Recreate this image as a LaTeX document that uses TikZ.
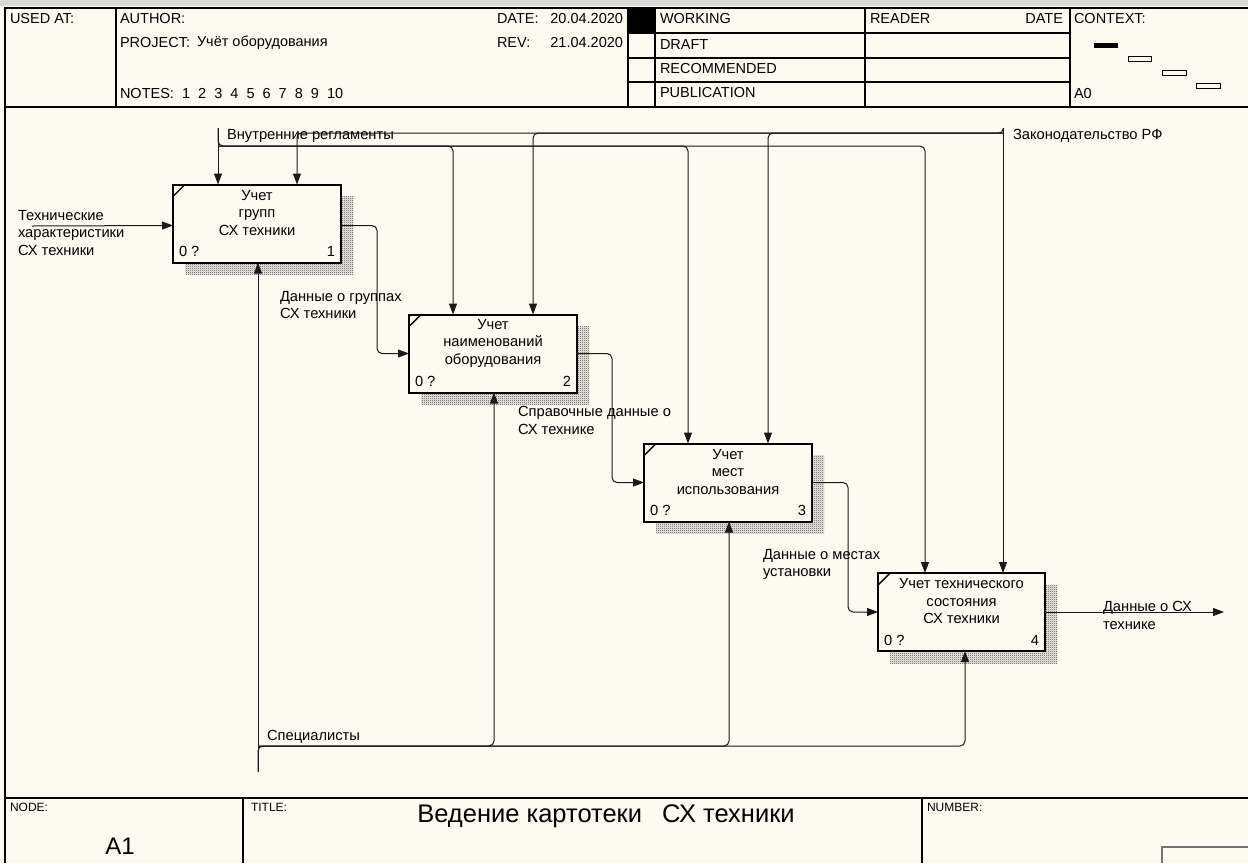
\documentclass[tikz,border=0pt]{standalone}
\usepackage{fontspec}
\setmainfont{Liberation Sans}
\usetikzlibrary{arrows.meta,patterns.meta,calc,backgrounds}
\definecolor{bgc}{RGB}{255,250,240}
\tikzdeclarepattern{
  name=dither,
  type=uncolored,
  bounding box={(0pt,0pt) and (2pt,2pt)},
  tile size={(2pt,2pt)},
  code={\fill (0pt,0pt) rectangle (1pt,1pt); \fill (1pt,1pt) rectangle (2pt,2pt);}
}
\tikzset{
  every node/.style={inner sep=0pt, outer sep=0pt},
  txt/.style={font=\fontsize{14.7}{17.5}\selectfont, align=left, anchor=west},
  hdr/.style={font=\fontsize{14.5}{16}\selectfont, anchor=west},
  hdrr/.style={font=\fontsize{14.5}{16}\selectfont, anchor=east},
  small/.style={font=\fontsize{12}{13}\selectfont, anchor=west},
  boxtxt/.style={font=\fontsize{14.7}{17.5}\selectfont, align=center},
  actbox/.style={draw, line width=2pt, fill=bgc, minimum width=168pt, minimum height=78pt},
  frame/.style={line width=1.3pt, draw=black},
  conn/.style={line width=1pt, draw=black!90, rounded corners=5pt},
  arr/.style={conn, -{Triangle[length=11pt,width=8pt]}},
  shadowbox/.style={pattern=dither, pattern color=black},
}
\begin{document}
\begin{tikzpicture}[x=1pt,y=-1pt]
\useasboundingbox (0,0) rectangle (1248,863);

% ---------- header frame ----------
\fill[black!15] (0,0) rectangle (1248,6);
\draw[frame] (5,863) -- (5,8) -- (1248,8);
\draw[frame] (5,107) -- (1248,107);
\draw[frame] (116,8) -- (116,107);
\draw[frame] (628,8) -- (628,107);
\draw[frame] (655,8) -- (655,107);
\draw[frame] (865,8) -- (865,107);
\draw[frame] (1070,8) -- (1070,107);
\draw[frame] (628,33) -- (1070,33);
\draw[frame] (628,58) -- (1070,58);
\draw[frame] (628,82) -- (1070,82);
\fill[black] (628,8) rectangle (655,33);

\node[hdr] (usedat) at (10,19) {USED AT:};
\node[hdr] (author) at (120,19) {AUTHOR:};
\node[hdr] (project) at (120,43) {PROJECT:};
\node[hdr] (projname) at (197,43) {Учёт оборудования};
\node[hdr] (notes) at (120,94) {NOTES:\ \ 1\ \ 2\ \ 3\ \ 4\ \ 5\ \ 6\ \ 7\ \ 8\ \ 9\ \ 10};
\node[hdr] (date) at (497,19) {DATE:};
\node[hdrr] (dateval) at (623,19) {20.04.2020};
\node[hdr] (rev) at (497,43) {REV:};
\node[hdrr] (revval) at (623,43) {21.04.2020};
\node[hdr] (working) at (660,19) {WORKING};
\node[hdr] (draft) at (660,45) {DRAFT};
\node[hdr] (recom) at (660,69) {RECOMMENDED};
\node[hdr] (public) at (660,93) {PUBLICATION};
\node[hdr] (reader) at (870,19) {READER};
\node[hdrr] (rdate) at (1063,19) {DATE};
\node[hdr] (context) at (1074,19) {CONTEXT:};
\node[hdr] (a0) at (1074,94) {A0};
\fill[black] (1094,43) rectangle (1118,48);
\draw[line width=0.9pt] (1128,56) rectangle (1151,61);
\draw[line width=0.9pt] (1162,70) rectangle (1186,75);
\draw[line width=0.9pt] (1196,83) rectangle (1220,88);

% ---------- footer ----------
\draw[frame] (5,798) -- (1248,798);
\draw[frame] (243,798) -- (243,863);
\draw[frame] (922,798) -- (922,863);
\draw[line width=1.3pt, draw=black!55] (1162,863) -- (1162,847) -- (1248,847);
\node[small] (nodelbl) at (10,807) {NODE:};
\node[small] (titlelbl) at (251,807) {TITLE:};
\node[small] (numlbl) at (927,807) {NUMBER:};
\node[font=\fontsize{24}{26}\selectfont] (a1) at (120,846) {A1};
\node[font=\fontsize{25.5}{28}\selectfont] (title) at (606,816) {Ведение картотеки\hspace{20pt}СХ техники};

% ---------- activity boxes ----------
\node[actbox] (b1) at (257,223.5) {};
\node[actbox] (b2) at (493,353.5) {};
\node[actbox] (b3) at (728,482.5) {};
\node[actbox, minimum width=167pt] (b4) at (961.5,612) {};

\foreach \b/\t/\n in {b1/{Учет\\групп\\СХ техники}/1,
                       b2/{Учет\\наименований\\оборудования}/2,
                       b3/{Учет\\мест\\использования}/3,
                       b4/{Учет технического\\состояния\\СХ техники}/4}{
  \node[boxtxt] (\b t) at ($(\b.north)+(0,28.5)$) {\t};
  \node[boxtxt, anchor=west] (\b z) at ($(\b.south west)+(6,-11)$) {0 ?};
  \node[boxtxt, anchor=east] (\b n) at ($(\b.south east)+(-6,-11)$) {\n};
  \draw[line width=1.4pt] ($(\b.north west)+(0,12)$) -- ($(\b.north west)+(12,0)$);
}

% ---------- coordinates ----------
\coordinate (a1v) at ($(b1.north west)+(45,0)$);
\coordinate (a1z) at ($(b1.north west)+(124,0)$);
\coordinate (a2v) at ($(b2.north west)+(44,0)$);
\coordinate (a2z) at ($(b2.north west)+(124,0)$);
\coordinate (a3v) at ($(b3.north west)+(44,0)$);
\coordinate (a3z) at ($(b3.north west)+(124,0)$);
\coordinate (a4v) at ($(b4.north west)+(47,0)$);
\coordinate (a4z) at ($(b4.north west)+(125,0)$);
\coordinate (vr) at (a1v |- 0,128);
\coordinate (hv) at (a1v |- 0,146);
\coordinate (zk) at (a4z |- 0,128);
\coordinate (hz) at (a4z |- 0,133);
\coordinate (m1) at ($(b1.south west)+(85,0)$);
\coordinate (m2) at ($(b2.south west)+(85,0)$);
\coordinate (m3) at ($(b3.south west)+(85,0)$);
\coordinate (m4) at ($(b4.south west)+(87,0)$);
\coordinate (sp) at (m1 |- 0,772);
\coordinate (hs) at (m1 |- 0,746);
\coordinate (cin) at (32,226);
\coordinate (cout) at (1224,612);
\coordinate (o1) at ($(b1.east)+(0,2)$);
\coordinate (i1) at ($(b1.west)+(0,2)$);

% ---------- controls ----------
\draw[arr] (vr) -- (a1v);
\draw[arr] (vr) -- (hv) -| (a4v);
\draw[arr] (hv) -| (a2v);
\draw[arr] (hv) -| (a3v);
\draw[arr] (zk) -- (a4z);
\draw[arr, rounded corners=4pt] (zk) -- (hz) -| (a1z);
\draw[arr] (hz) -| (a2z);
\draw[arr] (hz) -| (a3z);
\node[txt] (lvr) at (227,136) {Внутренние регламенты};
\node[txt] (lzk) at (1013,136) {Законодательство РФ};

% ---------- input / outputs ----------
\draw[arr] (cin) -- (i1);
\node[txt] (lin) at (18,233) {Технические\\характеристики\\СХ техники};
\draw[arr] (o1) -- ++(36,0) |- (b2.west);
\node[txt] (l12) at (280,305) {Данные о группах\\СХ техники};
\draw[arr] (b2.east) -- ++(35,0) |- (b3.west);
\node[txt] (l23) at (518,420.5) {Справочные данные о\\СХ технике};
\draw[arr] (b3.east) -- ++(36,0) |- (b4.west);
\node[txt] (l34) at (763,564.5) {Данные о местах\\установки};
\draw[arr] (b4.east) -- (cout);
\node[txt] (lout) at (1103,615.5) {Данные о СХ\\технике};

% ---------- mechanisms ----------
\draw[arr] (sp) -- (m1);
\draw[arr] (sp) -- (hs) -| (m4);
\draw[arr] (hs) -| (m2);
\draw[arr] (hs) -| (m3);
\node[txt] (lsp) at (267,737) {Специалисты};

% ---------- background & shadows ----------
\begin{scope}[on background layer]
  \fill[bgc] (0,6) rectangle (1248,863);
  \foreach \b in {b1,b2,b3,b4}{
    \fill[shadowbox] ($(\b.north west)+(12,12)$) rectangle ($(\b.south east)+(12,12)$);
  }
\end{scope}
\end{tikzpicture}
\end{document}
